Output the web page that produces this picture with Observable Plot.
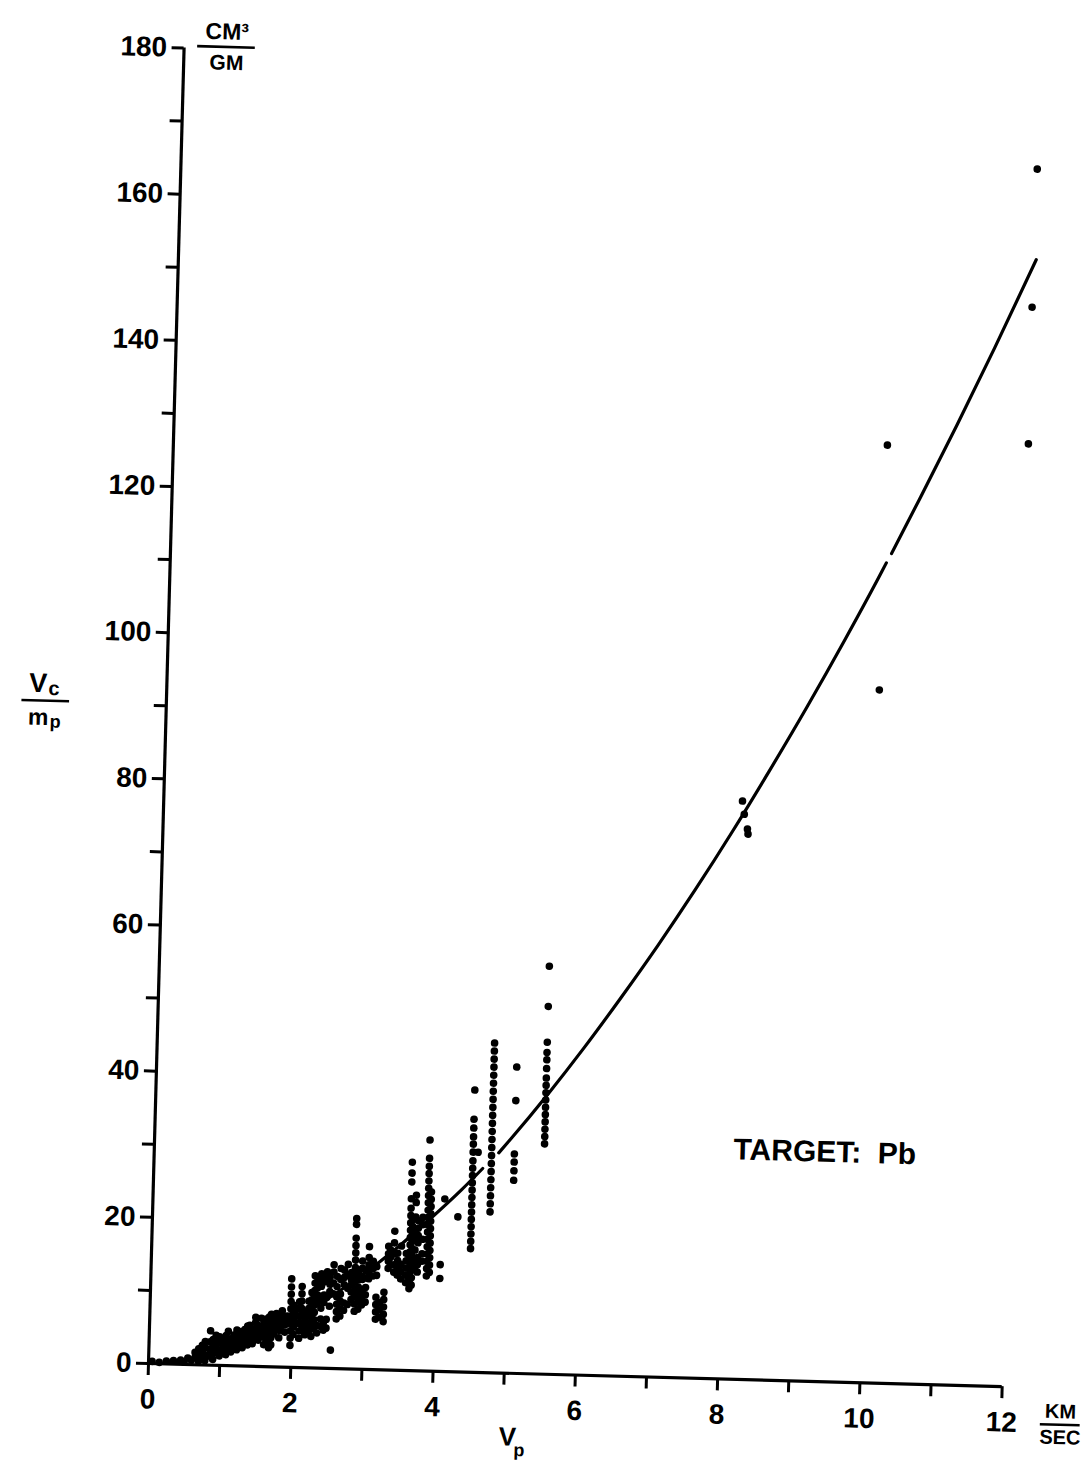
<!DOCTYPE html>
<html><head><meta charset="utf-8">
<script src="https://cdn.jsdelivr.net/npm/d3@7"></script>
<script src="https://cdn.jsdelivr.net/npm/@observablehq/plot@0.6"></script>
<style>
html,body{margin:0;padding:0;background:#fff;overflow:hidden;}
#chart svg{display:block;transform:rotate(1.55deg);transform-origin:148px 1363px;}
</style></head><body><div id="chart"></div>
<script>
// fitted curve (segments separated by small gaps in the original drawing)
const curveX = [0.3,0.5,0.75,1,1.49,1.98,2.47,2.97,3.42,3.9,4.33,4.62,
  4.84,5.0,5.5,6.0,6.5,7.0,7.5,8.0,8.5,9.0,9.5,10.0,10.06,
  10.13,10.5,11.0,11.5,12.05];
const curveY = [0.08,0.54,1.4,2.37,4.3,6.54,9.4,12.9,16.5,20.8,24.9,27.9,
  30.1,32.0,38.2,44.8,51.8,59.1,66.8,74.9,83.4,92.2,101.4,111.0,112.2,
  113.5,121.0,131.3,142.0,154.2];
const curveSeg = [1,1,1,1,1,1,1,1,1,1,1,1,
  2,2,2,2,2,2,2,2,2,2,2,2,2,
  3,3,3,3,3];

// measured points, grouped by impact velocity (km/sec)
const columnX = [0.05,0.15,0.25,0.35,0.45,0.5,0.55,0.6,0.65,0.7,0.75,0.79,0.86,0.9,0.94,0.99,1.04,1.08,1.11,1.15,1.19,1.23,1.27,1.31,1.34,1.38,1.41,1.45,1.49,1.53,1.57,1.61,1.64,1.68,1.71,1.75,1.78,1.82,1.86,1.9,1.93,1.98,2.02,2.06,2.1,2.13,2.18,2.23,2.27,2.31,2.35,2.4,2.44,2.48,2.52,2.55,2.57,2.62,2.67,2.72,2.77,2.82,2.87,2.92,2.97,3.02,3.06,3.12,3.17,3.22,3.28,3.33,3.36,3.41,3.46,3.51,3.58,3.63,3.66,3.7,3.74,3.8,3.87,3.91,4.06,4.1,4.29,4.48,4.55,4.74,5.06,5.48,8.13,8.16,8.21,8.22,10.03,10.01,12.03,12.01];
const columnY = [
  [0.3],[0.2],[0.4],[0.5],[0.6],[0.3],[0.9],[0.6],
  [1.0,1.7],
  [0.5,1.4,2.2],
  [0.8,1.8,2.7],
  [0.6,1.4,2.4,3.2],
  [1.2,2.2,3.2,4.7],
  [0.8,1.7,2.6,3.5],
  [1.7,2.6,3.5,4.1],
  [1.3,2.1,3.1,3.9],
  [1.9,2.8,3.7],
  [1.5,2.4,3.3,4.1],
  [2.3,3.3,4.7],
  [1.9,2.8,3.7],
  [2.5,3.4,4.2],
  [2.2,3.1,4.0,4.9],
  [2.9,3.8,4.7],
  [2.5,3.4,4.4],
  [3.2,4.1,5.0],
  [2.9,3.8,4.8,5.5],
  [3.6,4.6,5.6],
  [3.1,4.1,5.1],
  [3.9,4.9,6.0,6.7],
  [3.6,4.6,5.6],
  [4.4,5.4,6.6],
  [3.0,4.0,5.0,6.0],
  [3.3,4.3,5.7,6.5],
  [2.6,3.6,4.6,5.5,6.8],
  [3.0,4.0,5.0,6.3,7.2],
  [4.5,5.5,6.5],
  [5.3,6.3,7.3],
  [4.0,5.0,6.0,7.0],
  [5.7,6.7,7.7],
  [4.8,5.8,6.8],
  [6.0,7.0],
  [3.0,4.0,5.0,6.0,7.0,8.0,9.0,10.0,11.0,12.1],
  [4.5,5.5,6.5,7.5,8.5],
  [6.1,7.1,8.1],
  [4.0,5.0,6.0,7.0,8.0,9.0],
  [5.1,6.1,7.1,8.1,9.1,10.1,11.1],
  [4.5,5.5,6.5,7.5],
  [5.0,6.1,7.1,8.1,9.1],
  [4.3,5.3,6.3,7.3,8.3,9.3,10.3],
  [5.6,6.6,7.6,8.6,9.6,10.6,11.6,12.6],
  [4.8,5.8,9.0,10.0,11.0,12.0],
  [5.7,6.7,8.2,9.7,11.2,12.2,12.9],
  [5.2,6.2,9.0,10.0,11.8,12.8],
  [5.5,6.7,9.7,12.2,13.2],
  [8.5,10.5,11.5,12.5],
  [2.5],
  [10.2,11.7,13.2,14.2],
  [6.8,7.8,8.8,9.8,11.2,12.6],
  [7.2,8.2,9.2,10.2,12.2,13.7],
  [8.0,9.0,11.5,12.5,13.5],
  [8.8,11.0,12.8,14.3],
  [9.5,10.5,11.5,12.2,13.2],
  [7.9,8.9,9.9,10.9,11.9,12.9,13.9,14.9,15.9,16.9,17.9,19.8,20.6],
  [8.2,9.2,10.2,11.2,12.2,13.2],
  [8.8,9.8,10.8,12.3,13.8,14.8],
  [9.2,10.2,11.2,12.5,13.5],
  [12.4,13.3,14.3,15.3,16.8],
  [12.8,13.8,14.8],
  [6.9,7.9,8.9,9.9,12.9,14.1],
  [7.2,8.2,9.2],
  [6.6,7.6,8.6,9.6,10.6],
  [13.9,14.9,15.9,16.9],
  [14.4,15.4,16.4],
  [13.4,14.4,15.9,17.4,19.0],
  [13.0,14.0,15.0,16.0],
  [12.5,13.5,14.5,17.0],
  [12.0,13.0,14.0,15.0,16.0],
  [11.2,12.2,13.2,14.2,15.2,16.2,17.2,18.2,19.2,20.2,21.2,22.2,23.5,25.8,27.0,28.5],
  [11.7,12.7,13.7,14.7,15.7,16.7,17.7,18.7,19.7,20.7],
  [14.0,15.0,16.5,18.0,19.0,21.0,23.0,24.0],
  [13.5,14.5,15.5,17.5,18.5,19.5,20.5],
  [15.0,16.0,18.0,20.0,21.0],
  [13,14,15,16,17,18,19,20,21,22,23,24,25,26,27,28,29.1,31.6],
  [13.5,14.5,15.5,16.5,17.5,18.5,19.5,20.5,21.5,22.5,23.5,24.5],
  [12.7,14.6],
  [23.6],
  [21.2],
  [16.9,17.9,18.9,19.9,20.9,21.9,22.9,23.9,24.9,25.9,26.9,27.9,28.9,30.1,31.2,32.2,33.4,34.6,38.6],
  [30.1],
  [22.0,23.1,24.2,25.3,26.4,27.5,28.6,29.7,30.8,31.9,33.0,34.1,35.2,36.3,37.4,38.5,39.6,40.7,41.8,42.9,44.0,45.1],
  [41.9,37.3,30.0,28.9,27.7,26.4],
  [31.5,32.5,33.5,34.5,35.5,36.5,37.5,38.5,39.5,40.5,41.8,43.0,44.0,45.4,50.3,55.8],
  [79.1],[77.3],[75.3],[74.6],
  [128.3],[94.8],[166.6],[147.7,129.0]
];

const xDomain = [0, 12];
const yDomain = [0, 180];
const xTickValues = [0,1,2,3,4,5,6,7,8,9,10,11,12];
const xTickLabels = ["0","","2","","4","","6","","8","","10","","12"];
const yTickValues = [0,10,20,30,40,50,60,70,80,90,100,110,120,130,140,150,160,170,180];
const yTickLabels = ["0","","20","","40","","60","","80","","100","","120","","140","","160","","180"];

const curveRows = curveX.map((x, i) => ({x, y: curveY[i], seg: curveSeg[i]}));
const dotRows = columnX.flatMap((x, i) => columnY[i].map(y => ({x, y})));

const bold = {fontWeight: "bold", fill: "black"};

const chart = Plot.plot({
  width: 1084,
  height: 1466,
  marginLeft: 148,
  marginRight: 82,
  marginTop: 47,
  marginBottom: 103,
  x: {domain: xDomain, label: null},
  y: {domain: yDomain, label: null},
  style: {fontFamily: "Liberation Sans, Arial, sans-serif", fontSize: "28px", fontWeight: "bold", color: "black", background: "white"},
  marks: [
    Plot.axisX(xTickValues, {tickSize: 12, tickPadding: 13, strokeWidth: 3, fontSize: 28, fontWeight: "bold",
      tickFormat: d => xTickLabels[xTickValues.indexOf(d)], label: null}),
    Plot.axisY(yTickValues, {tickSize: 12, tickPadding: 5, strokeWidth: 3, fontSize: 28, fontWeight: "bold",
      tickFormat: d => yTickLabels[yTickValues.indexOf(d)], label: null}),
    Plot.ruleX([xDomain[0]], {y1: yDomain[0], y2: yDomain[1], strokeWidth: 3.2, stroke: "black"}),
    Plot.ruleY([yDomain[0]], {x1: xDomain[0], x2: xDomain[1], strokeWidth: 3.2, stroke: "black"}),
    Plot.line(curveRows, {x: "x", y: "y", z: "seg", curve: "monotone-x", stroke: "black", strokeWidth: 3.2}),
    Plot.dot(dotRows, {x: "x", y: "y", r: 3.8, fill: "black", stroke: "none"}),
    // y units  CM³ / GM
    Plot.text(["CM³"], {x: 0.6, y: 180.3, text: d => d, dy: -15, fontSize: 23, ...bold}),
    Plot.ruleY([180.3], {x1: 0.19, x2: 1.0, strokeWidth: 2.6, stroke: "black"}),
    Plot.text(["GM"], {x: 0.6, y: 180.3, text: d => d, dy: 16, fontSize: 21, ...bold}),
    // y label  Vc / mp
    Plot.text(["V"], {x: -1.71, y: 90.26, text: d => d, dx: -7, dy: -17, fontSize: 27, ...bold}),
    Plot.text(["c"], {x: -1.71, y: 90.26, text: d => d, dx: 9, dy: -12, fontSize: 20, ...bold}),
    Plot.ruleY([90.26], {x1: -2.03, x2: -1.36, strokeWidth: 2.6, stroke: "black"}),
    Plot.text(["m"], {x: -1.71, y: 90.26, text: d => d, dx: -6, dy: 17, fontSize: 23, ...bold}),
    Plot.text(["p"], {x: -1.71, y: 90.26, text: d => d, dx: 11, dy: 21, fontSize: 18, ...bold}),
    // x units KM / SEC
    Plot.text(["KM"], {x: 12.83, y: -5.0, text: d => d, dy: -13, fontSize: 20, ...bold}),
    Plot.ruleY([-5.0], {x1: 12.55, x2: 13.11, strokeWidth: 2.6, stroke: "black"}),
    Plot.text(["SEC"], {x: 12.83, y: -5.0, text: d => d, dy: 13, fontSize: 20, ...bold}),
    // x label Vp
    Plot.text(["V"], {x: 5.11, y: -8.74, text: d => d, dx: -3, fontSize: 26, ...bold}),
    Plot.text(["p"], {x: 5.11, y: -8.74, text: d => d, dx: 9, dy: 13, fontSize: 18, ...bold}),
    // annotation
    Plot.text(["TARGET:  Pb"], {x: 9.42, y: 31.4, text: d => d, fontSize: 30, ...bold})
  ]
});
document.getElementById("chart").appendChild(chart);
</script>
</body></html>
